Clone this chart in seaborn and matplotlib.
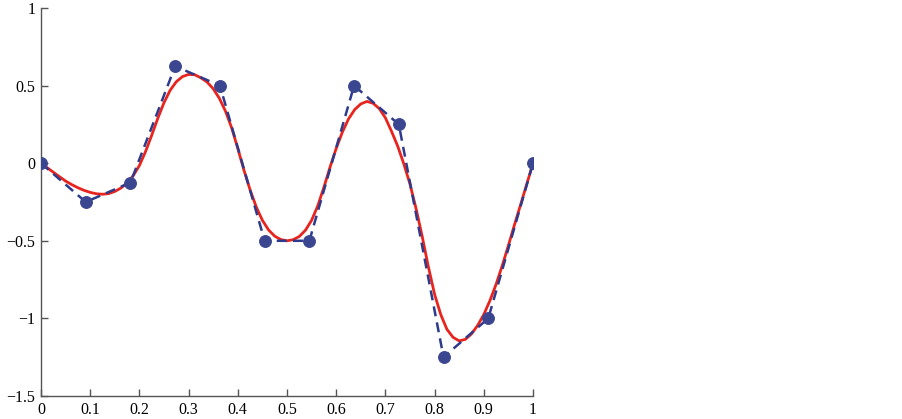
import matplotlib
matplotlib.use("Agg")
import matplotlib.pyplot as plt
import seaborn as sns
import pandas as pd

# Sample points (blue dots, dashed line)
pts_x = [0, 1/11, 2/11, 3/11, 4/11, 5/11, 6/11, 7/11, 8/11, 9/11, 10/11, 1]
pts_y = [0, -0.25, -0.125, 0.625, 0.5, -0.5, -0.5, 0.5, 0.25, -1.25, -1.0, 0]

# Fitted smooth curve (red), values every 0.0125
fit_x = [i * 0.0125 for i in range(81)]
fit_y = [0, -0.029, -0.058, -0.087, -0.115, -0.138, -0.158, -0.175, -0.188, -0.197,
         -0.2, -0.196, -0.182, -0.16, -0.127, -0.08, -0.015, 0.075, 0.18, 0.29,
         0.39, 0.47, 0.525, 0.558, 0.572, 0.57, 0.55, 0.523, 0.48, 0.418,
         0.335, 0.228, 0.095, -0.045, -0.172, -0.282, -0.368, -0.43, -0.47, -0.492,
         -0.5, -0.493, -0.472, -0.432, -0.368, -0.275, -0.155, -0.025, 0.095, 0.2,
         0.285, 0.345, 0.382, 0.398, 0.386, 0.352, 0.292, 0.205, 0.11, -0.005,
         -0.135, -0.295, -0.475, -0.67, -0.845, -0.975, -1.07, -1.122, -1.145, -1.135,
         -1.1, -1.045, -0.975, -0.885, -0.78, -0.66, -0.53, -0.395, -0.265, -0.133,
         0]

x_ticks = [0, 0.1, 0.2, 0.3, 0.4, 0.5, 0.6, 0.7, 0.8, 0.9, 1]
x_labels = ["0", "0.1", "0.2", "0.3", "0.4", "0.5", "0.6", "0.7", "0.8", "0.9", "1"]
y_ticks = [-1.5, -1, -0.5, 0, 0.5, 1]
y_labels = ["\u22121.5", "\u22121", "\u22120.5", "0", "0.5", "1"]

sns.set_style("ticks")
plt.rcParams['font.family'] = ['Liberation Serif', 'DejaVu Serif']

fig = plt.figure(figsize=(9.02, 4.19), dpi=100)
ax = fig.add_axes([41/902, 23/419, 492/902, 388/419])

df_pts = pd.DataFrame({"x": pts_x, "y": pts_y})
df_fit = pd.DataFrame({"x": fit_x, "y": fit_y})

sns.lineplot(data=df_fit, x="x", y="y", ax=ax, color="#E8241E", linewidth=2.0,
             zorder=2, sort=False)
sns.lineplot(data=df_pts, x="x", y="y", ax=ax, color="#2E3A8C", linewidth=1.8,
             linestyle=(0, (4, 2.5)), marker="o", markersize=8.5,
             markerfacecolor="#3B4690", markeredgecolor="#3B4690", zorder=3,
             sort=False)

ax.set_xlim(0, 1)
ax.set_ylim(-1.5, 1)
ax.set_xticks(x_ticks)
ax.set_xticklabels(x_labels)
ax.set_yticks(y_ticks)
ax.set_yticklabels(y_labels)
ax.set_xlabel("")
ax.set_ylabel("")
for s in ["top", "right"]:
    ax.spines[s].set_visible(False)
for s in ["left", "bottom"]:
    ax.spines[s].set_color("#555555")
    ax.spines[s].set_linewidth(1.0)
ax.tick_params(direction="in", length=5, width=1.0, color="#555555",
               labelsize=11.5, labelcolor="black", pad=4)
for lab in ax.get_xticklabels() + ax.get_yticklabels():
    lab.set_clip_on(False)

fig.savefig("out.png", dpi=100)
